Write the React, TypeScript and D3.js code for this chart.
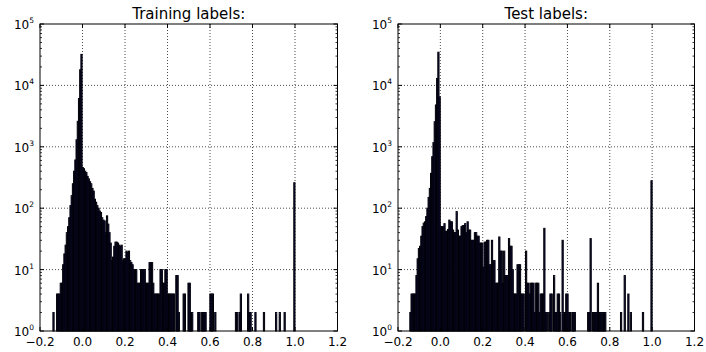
import React from "react";
import * as d3 from "d3";

// histogram counts, 200 bins each
const trainCounts = [
  1, 2, 1, 1, 4, 4, 4, 6, 6, 12, 18, 25, 40, 50, 70, 110, 160, 250, 400, 610,
  1300, 2600, 6100, 18000, 32000, 460, 440, 400, 380, 330, 300, 270, 250, 210, 190, 140, 125, 110, 100, 90,
  85, 70, 64, 62, 40, 75, 55, 40, 27, 14, 16, 24, 28, 28, 27, 25, 24, 25, 14, 15,
  15, 20, 19, 20, 14, 13, 12, 10, 10, 10, 6, 6, 6, 10, 10, 10, 10, 6, 6, 6,
  13, 13, 13, 6, 4, 4, 4, 4, 4, 10, 10, 6, 6, 10, 10, 4, 4, 4, 4, 4,
  4, 1, 8, 8, 2, 1, 1, 1, 4, 4, 1, 1, 6, 6, 2, 2, 1, 0, 0, 0,
  2, 2, 1, 2, 2, 2, 2, 1, 0, 0, 4, 4, 4, 1, 2, 0, 0, 0, 0, 0,
  0, 0, 0, 0, 0, 0, 0, 0, 0, 0, 0, 2, 2, 0, 2, 4, 0, 0, 0, 0,
  0, 4, 2, 2, 0, 0, 0, 2, 0, 0, 0, 0, 0, 0, 2, 0, 0, 0, 0, 0,
  0, 0, 0, 0, 2, 0, 0, 2, 0, 0, 0, 2, 0, 0, 0, 0, 0, 0, 0, 260,
];

const testCounts = [
  1, 2, 4, 4, 4, 4, 8, 15, 22, 24, 35, 50, 57, 60, 73, 100, 150, 210, 370, 690,
  1170, 2560, 4800, 13000, 34700, 6500, 50, 50, 50, 56, 42, 42, 45, 64, 60, 60, 44, 40, 40, 88,
  44, 35, 35, 50, 52, 52, 56, 40, 60, 44, 44, 30, 30, 30, 40, 40, 35, 35, 27, 27,
  27, 11, 28, 28, 30, 30, 12, 12, 30, 14, 14, 6, 6, 6, 34, 20, 20, 6, 20, 8,
  8, 8, 32, 24, 24, 10, 4, 4, 4, 12, 12, 12, 4, 4, 4, 1, 20, 6, 6, 4,
  6, 6, 6, 2, 6, 6, 6, 2, 4, 4, 4, 47, 2, 2, 1, 2, 4, 4, 1, 8,
  2, 2, 4, 4, 2, 1, 30, 2, 2, 4, 4, 2, 2, 0, 2, 2, 2, 0, 0, 0,
  0, 0, 0, 0, 0, 0, 0, 2, 2, 32, 0, 2, 2, 2, 2, 6, 2, 2, 2, 2,
  2, 2, 0, 0, 0, 0, 0, 0, 0, 0, 0, 0, 0, 0, 2, 0, 0, 8, 0, 0,
  4, 0, 2, 0, 0, 0, 0, 0, 0, 0, 0, 0, 2, 0, 0, 0, 0, 0, 0, 280,
];

const trainRange = [-0.145, 1.0];
const testRange = [-0.15, 1.0];
const xTicks = [-0.2, 0.0, 0.2, 0.4, 0.6, 0.8, 1.0, 1.2];
const yExponents = [0, 1, 2, 3, 4, 5];

const W = 706;
const H = 352;
const plotTop = 24;
const plotBottom = 331;
const font = "DejaVu Sans, sans-serif";

const fmt = (v: number) => (v < 0 ? "\u2212" : "") + Math.abs(v).toFixed(1);

function Panel({ title, counts, range, x0, x1 }: any) {
  const x = d3.scaleLinear().domain([-0.2, 1.2]).range([x0, x1]);
  const y = d3.scaleLog().domain([1, 1e5]).range([plotBottom, plotTop]);
  const step = (range[1] - range[0]) / counts.length;

  const minor: number[] = [];
  yExponents.slice(0, -1).forEach((e) => {
    for (let k = 2; k < 10; k++) minor.push(k * Math.pow(10, e));
  });

  return (
    <g>
      {/* grid */}
      {xTicks.slice(1, -1).map((t) => (
        <line key={"gx" + t} x1={x(t)} x2={x(t)} y1={plotTop} y2={plotBottom}
          stroke="#000" strokeOpacity={0.7} strokeWidth={1} strokeDasharray="1,2" />
      ))}
      {yExponents.slice(1, -1).map((e) => (
        <line key={"gy" + e} x1={x0} x2={x1} y1={y(Math.pow(10, e))} y2={y(Math.pow(10, e))}
          stroke="#000" strokeOpacity={0.7} strokeWidth={1} strokeDasharray="1,2" />
      ))}

      {/* bars */}
      {counts.map((c: number, i: number) => {
        if (c <= 1) return null;
        const a = x(range[0] + i * step);
        const b = x(range[0] + (i + 1) * step);
        return (
          <rect key={i} x={a} width={b - a} y={y(c)} height={plotBottom - y(c)}
            fill="#12124f" stroke="#000008" strokeWidth={1} />
        );
      })}

      {/* frame */}
      <rect x={x0} y={plotTop} width={x1 - x0} height={plotBottom - plotTop}
        fill="none" stroke="#000" strokeWidth={1} />

      {/* x ticks */}
      {xTicks.map((t) => (
        <g key={"xt" + t}>
          <line x1={x(t)} x2={x(t)} y1={plotBottom} y2={plotBottom - 4} stroke="#000" />
          <line x1={x(t)} x2={x(t)} y1={plotTop} y2={plotTop + 4} stroke="#000" />
          <text x={x(t)} y={346} textAnchor="middle" fontSize={12} fontFamily={font}>
            {fmt(t)}
          </text>
        </g>
      ))}

      {/* y ticks */}
      {yExponents.map((e) => (
        <g key={"yt" + e}>
          <line x1={x0} x2={x0 + 4} y1={y(Math.pow(10, e))} y2={y(Math.pow(10, e))} stroke="#000" />
          <line x1={x1} x2={x1 - 4} y1={y(Math.pow(10, e))} y2={y(Math.pow(10, e))} stroke="#000" />
          <text x={x0 - 6} y={y(Math.pow(10, e)) + 5} textAnchor="end" fontSize={12} fontFamily={font}>
            10
            <tspan fontSize={7.5} dy={-6}>{e}</tspan>
          </text>
        </g>
      ))}
      {minor.map((m) => (
        <g key={"ym" + m}>
          <line x1={x0} x2={x0 + 2} y1={y(m)} y2={y(m)} stroke="#000" strokeWidth={0.8} />
          <line x1={x1} x2={x1 - 2} y1={y(m)} y2={y(m)} stroke="#000" strokeWidth={0.8} />
        </g>
      ))}

      <text x={(x0 + x1) / 2} y={19} textAnchor="middle" fontSize={15} fontFamily={font}>
        {title}
      </text>
    </g>
  );
}

export default function App() {
  return (
    <div style={{ position: "absolute", left: 0, top: 0, background: "#fff" }}>
      <svg width={W} height={H}>
        <rect width={W} height={H} fill="#fff" />
        <Panel title="Training labels:" counts={trainCounts} range={trainRange} x0={40} x1={337.5} />
        <Panel title="Test labels:" counts={testCounts} range={testRange} x0={398} x1={694.5} />
      </svg>
    </div>
  );
}
